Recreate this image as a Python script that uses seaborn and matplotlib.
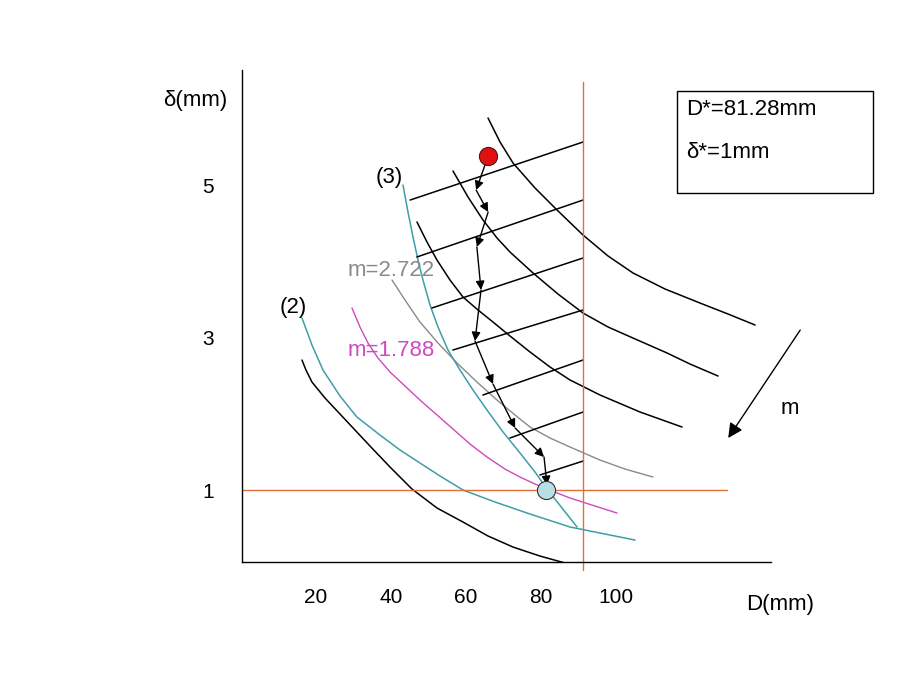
import matplotlib
matplotlib.use('Agg')
import matplotlib.pyplot as plt
import seaborn as sns
from matplotlib.patches import Rectangle

# curves: D (mm), delta (mm)
low_D = [16.27, 17.33, 18.93, 22.40, 26.40, 30.40, 34.40, 39.73, 45.60, 52.27,
         59.20, 65.87, 72.53, 79.73, 86.40]
low_d = [2.705, 2.574, 2.416, 2.207, 1.997, 1.787, 1.577, 1.302, 1.013, 0.764,
         0.580, 0.397, 0.252, 0.134, 0.043]

c2_D = [16.27, 18.93, 21.87, 26.40, 30.93, 37.07, 42.40, 47.73, 53.07, 59.20,
        67.73, 77.07, 87.73, 95.73, 105.07]
c2_d = [3.256, 2.902, 2.574, 2.233, 1.957, 1.721, 1.525, 1.354, 1.184, 1.0,
        0.843, 0.685, 0.515, 0.436, 0.344]

mag_D = [29.60, 31.73, 33.87, 36.53, 39.73, 43.73, 47.73, 52.27, 56.53, 61.07,
         65.60, 70.40, 74.40, 78.40, 81.60, 87.73, 94.40, 100.27]
mag_d = [3.387, 3.138, 2.928, 2.731, 2.548, 2.364, 2.180, 1.984, 1.800, 1.603,
         1.433, 1.275, 1.170, 1.079, 1.013, 0.895, 0.790, 0.698]

gray_D = [40.27, 43.73, 47.73, 52.53, 57.60, 62.93, 68.27, 73.07, 77.07, 82.40,
          87.73, 95.73, 102.40, 109.87]
gray_d = [3.754, 3.492, 3.203, 2.928, 2.666, 2.416, 2.180, 1.984, 1.826, 1.682,
          1.564, 1.393, 1.275, 1.170]

c3_D = [43.20, 44.53, 45.87, 47.20, 48.53, 50.40, 52.53, 55.20, 58.40, 61.87,
        65.60, 69.87, 74.40, 78.40, 81.60, 85.60, 89.60]
c3_d = [5.0, 4.646, 4.318, 4.016, 3.754, 3.426, 3.138, 2.836, 2.574, 2.311,
        2.049, 1.761, 1.485, 1.236, 1.013, 0.764, 0.515]

# black m-family curves (upper right)
fam_D = [
    [46.93, 49.60, 52.27, 55.73, 59.20, 63.20, 67.20, 71.73, 77.07, 82.40,
     87.73, 95.73, 106.40, 117.60],
    [56.53, 60.53, 64.53, 68.27, 71.73, 77.87, 84.53, 91.20, 97.87, 104.53,
     113.60, 119.73, 127.20],
    [65.87, 69.07, 72.53, 78.40, 84.27, 91.20, 97.87, 104.53, 113.07, 122.40,
     129.87, 137.07],
]
fam_d = [
    [4.515, 4.252, 4.016, 3.754, 3.531, 3.361, 3.203, 3.020, 2.810, 2.613,
     2.443, 2.246, 2.023, 1.826],
    [5.184, 4.843, 4.541, 4.305, 4.121, 3.846, 3.570, 3.321, 3.138, 2.993,
     2.797, 2.652, 2.495],
    [5.879, 5.564, 5.289, 4.961, 4.672, 4.344, 4.069, 3.846, 3.636, 3.452,
     3.308, 3.164],
]

# oblique constraint lines: (D0, d0) -> (D1, d1)
seg_D0 = [45.1, 46.9, 50.9, 56.5, 64.5, 71.7, 79.7]
seg_d0 = [4.803, 4.056, 3.387, 2.836, 2.246, 1.682, 1.197]
seg_D1 = [91.2, 91.2, 91.2, 91.2, 91.2, 91.2, 91.2]
seg_d1 = [5.564, 4.803, 4.043, 3.361, 2.705, 2.023, 1.380]

# search path
path_D = [65.9, 62.7, 65.9, 62.9, 64.0, 62.4, 67.2, 73.1, 80.8, 81.6]
path_d = [5.380, 4.934, 4.646, 4.187, 3.623, 2.954, 2.390, 1.813, 1.433, 1.066]

D_opt, d_opt = 81.28, 1.0
D_limit = 91.2

xticks = [20, 40, 60, 80, 100, 120]
xlabels = ['20', '40', '60', '80', '100', '']
yticks = [1, 2, 3, 4, 5]
ylabels = ['1', '', '3', '', '5']

teal = '#3e9ea8'
magenta = '#d048c0'
grey = '#8a8a8a'
red = '#e0703c'

sns.set_style('white')
plt.rcParams['font.family'] = ['Liberation Sans', 'DejaVu Sans']
plt.rcParams['text.color'] = 'black'
plt.rcParams['xtick.color'] = 'black'
plt.rcParams['ytick.color'] = 'black'

fig = plt.figure(figsize=(9.2, 6.9), dpi=100)
ax = fig.add_axes([0.263, 0.1855, 0.575, 0.713])

sns.lineplot(x=low_D, y=low_d, ax=ax, color='black', lw=1.1, sort=False, estimator=None)
sns.lineplot(x=c2_D, y=c2_d, ax=ax, color=teal, lw=1.1, sort=False, estimator=None)
sns.lineplot(x=mag_D, y=mag_d, ax=ax, color=magenta, lw=1.0, sort=False, estimator=None)
sns.lineplot(x=gray_D, y=gray_d, ax=ax, color=grey, lw=1.0, sort=False, estimator=None)
sns.lineplot(x=c3_D, y=c3_d, ax=ax, color=teal, lw=1.1, sort=False, estimator=None)
for xs, ys in zip(fam_D, fam_d):
    sns.lineplot(x=xs, y=ys, ax=ax, color='black', lw=1.1, sort=False, estimator=None)

for x0, y0, x1, y1 in zip(seg_D0, seg_d0, seg_D1, seg_d1):
    ax.plot([x0, x1], [y0, y1], color='black', lw=1.1)

# limit lines
ax.plot([D_limit, D_limit], [-0.05, 6.35], color=red, lw=1.0, clip_on=False)
ax.plot([0.3, 129.6], [d_opt, d_opt], color=red, lw=1.0)

# path with arrows
for i in range(len(path_D) - 1):
    ax.annotate('', xy=(path_D[i + 1], path_d[i + 1]), xytext=(path_D[i], path_d[i]),
                arrowprops=dict(arrowstyle='-|>', color='black', lw=1.0,
                                mutation_scale=13, shrinkA=0, shrinkB=0))

ax.scatter([path_D[0]], [path_d[0]], s=170, color='#e01010', edgecolor='#551111', lw=0.8, zorder=5)
ax.scatter([D_opt], [d_opt], s=170, color='#b8dfe6', edgecolor='#333333', lw=0.8, zorder=5)

# m direction arrow
ax.annotate('', xy=(129.9, 1.682), xytext=(149.1, 3.098),
            arrowprops=dict(arrowstyle='-|>', color='black', lw=1.0, mutation_scale=22,
                            shrinkA=0, shrinkB=0), annotation_clip=False)
ax.text(146.4, 2.075, 'm', fontsize=16, ha='center', va='center', clip_on=False)

# labels on curves
ax.text(39.5, 5.105, '(3)', fontsize=16, ha='center', va='center')
ax.text(13.9, 3.40, '(2)', fontsize=16, ha='center', va='center')
ax.text(28.3, 3.885, 'm=2.722', fontsize=16, color=grey, ha='left', va='center')
ax.text(28.3, 2.836, 'm=1.788', fontsize=16, color=magenta, ha='left', va='center')

# info box
ax.add_patch(Rectangle((116.3, 4.895), 52.2, 1.338, fill=False, edgecolor='black',
                       lw=1.0, clip_on=False))
ax.text(118.7, 5.984, 'D*=81.28mm', fontsize=16, ha='left', va='center', clip_on=False)
ax.text(118.7, 5.420, 'δ*=1mm', fontsize=16, ha='left', va='center', clip_on=False)

# axis titles
ax.text(-12.3, 6.115, 'δ(mm)', fontsize=16, ha='center', va='center', clip_on=False)
ax.text(143.7, -0.495, 'D(mm)', fontsize=16, ha='center', va='center', clip_on=False)

ax.set_xlim(0.27, 141.3)
ax.set_ylim(0.056, 6.508)
ax.set_xticks(xticks)
ax.set_xticklabels(xlabels)
ax.set_yticks(yticks)
ax.set_yticklabels(ylabels)
ax.tick_params(axis='x', direction='in', length=10, width=1, pad=19, labelsize=15)
ax.tick_params(axis='y', direction='in', length=11, width=1, pad=20, labelsize=15)
ax.set_xlabel('')
ax.set_ylabel('')
sns.despine(ax=ax)
for s in ['left', 'bottom']:
    ax.spines[s].set_color('black')
    ax.spines[s].set_linewidth(1.0)

fig.savefig('out.png', dpi=100)
